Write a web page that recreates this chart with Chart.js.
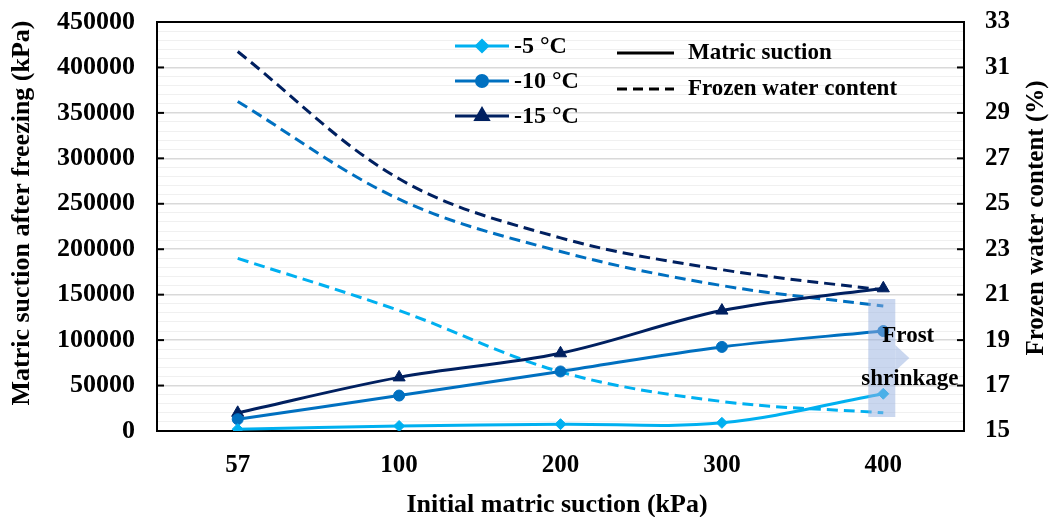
<!DOCTYPE html>
<html>
<head>
<meta charset="utf-8">
<script src="https://cdn.jsdelivr.net/npm/chart.js@4.4.1/dist/chart.umd.min.js"></script>
<style>
  html, body { margin: 0; padding: 0; background: #fff; }
  #wrap { width: 1054px; height: 517px; }
</style>
</head>
<body>
<div id="wrap"><canvas id="chart"></canvas></div>
<script>
// x categories: initial matric suction (kPa)
const CATEGORIES = ["57", "100", "200", "300", "400"];

// matric suction after freezing (kPa), left axis
const SUCTION_5 = [2000, 5500, 7500, 9000, 41000];
const SUCTION_10 = [13000, 39000, 65500, 92500, 110000];
const SUCTION_15 = [20000, 59000, 85500, 132500, 157000];

// frozen water content (%), right axis
const WATER_5 = [22.6, 20.3, 17.6, 16.3, 15.8];
const WATER_10 = [29.5, 25.2, 22.9, 21.4, 20.5];
const WATER_15 = [31.7, 26.1, 23.5, 22.1, 21.2];

// tick labels
const SUCTION_TICKS = [0, 50000, 100000, 150000, 200000, 250000, 300000, 350000, 400000, 450000];
const WATER_TICKS = [15, 17, 19, 21, 23, 25, 27, 29, 31, 33];

const TEMPS = ["-5 °C", "-10 °C", "-15 °C"];
const COLORS = ["#00B0F0", "#0070C0", "#002060"];
const MARKERS = ["rectRot", "circle", "triangle"];

const FONT = "'Liberation Serif', 'Times New Roman', serif";

function solid(label, data, i) {
  return {
    label,
    data,
    yAxisID: "y",
    borderColor: COLORS[i],
    backgroundColor: COLORS[i],
    borderWidth: 3,
    pointStyle: MARKERS[i],
    pointRadius: i === 2 ? 7 : 5.5,
    pointHoverRadius: 6,
    pointBorderWidth: 1,
    tension: 0.35,
    fill: false
  };
}

function dashed(label, data, i) {
  return {
    label,
    data,
    yAxisID: "y2",
    borderColor: COLORS[i],
    borderWidth: 3,
    borderDash: [11, 6],
    pointRadius: 0,
    tension: 0.35,
    fill: false
  };
}

// keep the plot box where the reference has it
function fixWidth(w) {
  return (s) => {
    s.width = w;
    s.paddingTop = 0;
    s.paddingBottom = 0;
  };
}

/* extra drawing: frame, inward ticks, legends, titles, note */

const decor = {
  id: "decor",
  beforeDatasetsDraw(chart) {
    const { ctx, chartArea: a, scales } = chart;
    ctx.save();
    ctx.strokeStyle = "#000";
    ctx.lineWidth = 2;
    ctx.strokeRect(a.left, a.top, a.right - a.left, a.bottom - a.top);

    // inward tick marks
    SUCTION_TICKS.forEach((v) => {
      const y = scales.y.getPixelForValue(v);
      ctx.beginPath();
      ctx.moveTo(a.left, y);
      ctx.lineTo(a.left + 7, y);
      ctx.stroke();
    });
    WATER_TICKS.forEach((v) => {
      const y = scales.y2.getPixelForValue(v);
      ctx.beginPath();
      ctx.moveTo(a.right, y);
      ctx.lineTo(a.right - 7, y);
      ctx.stroke();
    });
    ctx.restore();
  },
  afterDatasetsDraw(chart) {
    const { ctx, scales } = chart;
    ctx.save();

    // "Frost shrinkage" block arrow
    const x4 = scales.x.getPixelForValue(4);
    const top = 299, bottom = 417, mid = 358;
    ctx.fillStyle = "rgba(150, 176, 224, 0.5)";
    ctx.beginPath();
    ctx.rect(x4 - 15, top, 27, bottom - top);
    ctx.fill();
    ctx.beginPath();
    ctx.moveTo(x4 + 12, mid - 13);
    ctx.lineTo(x4 + 26, mid);
    ctx.lineTo(x4 + 12, mid + 13);
    ctx.closePath();
    ctx.fill();

    ctx.fillStyle = "#000";
    ctx.font = "bold 23px " + FONT;
    ctx.textAlign = "left";
    ctx.textBaseline = "alphabetic";
    ctx.fillText("Frost", x4 - 1, 342);
    ctx.fillText("shrinkage", x4 - 22, 385);

    // temperature legend
    const rows = [46, 81, 116];
    TEMPS.forEach((t, i) => {
      const y = rows[i];
      ctx.strokeStyle = COLORS[i];
      ctx.lineWidth = 3;
      ctx.setLineDash([]);
      ctx.beginPath();
      ctx.moveTo(455, y);
      ctx.lineTo(509, y);
      ctx.stroke();
      ctx.fillStyle = COLORS[i];
      Chart.helpers.drawPoint(ctx, {
        pointStyle: MARKERS[i],
        radius: i === 2 ? 7 : 5.5,
        rotation: 0,
        borderWidth: 1
      }, 482, y);
      ctx.fillStyle = "#000";
      ctx.font = "bold 24px " + FONT;
      ctx.textBaseline = "middle";
      ctx.fillText(t, 514, y + 1);
    });

    // line style legend
    ctx.strokeStyle = "#000";
    ctx.lineWidth = 3;
    ctx.beginPath();
    ctx.moveTo(617, 53);
    ctx.lineTo(674, 53);
    ctx.stroke();
    ctx.setLineDash([10, 6]);
    ctx.beginPath();
    ctx.moveTo(617, 89);
    ctx.lineTo(674, 89);
    ctx.stroke();
    ctx.setLineDash([]);
    ctx.font = "bold 23px " + FONT;
    ctx.fillText("Matric suction", 688, 53);
    ctx.fillText("Frozen water content", 688, 89);

    // axis titles
    ctx.font = "bold 26px " + FONT;
    ctx.textAlign = "center";
    ctx.textBaseline = "middle";
    ctx.fillText("Initial matric suction (kPa)", 557, 505);

    ctx.translate(22, 213);
    ctx.rotate(-Math.PI / 2);
    ctx.fillText("Matric suction after freezing (kPa)", 0, 0);
    ctx.setTransform(1, 0, 0, 1, 0, 0);

    ctx.font = "bold 25px " + FONT;
    ctx.translate(1037, 218);
    ctx.rotate(-Math.PI / 2);
    ctx.fillText("Frozen water content (%)", 0, 0);
    ctx.restore();
  }
};

const datasets = [
  solid(TEMPS[0], SUCTION_5, 0),
  solid(TEMPS[1], SUCTION_10, 1),
  solid(TEMPS[2], SUCTION_15, 2),
  dashed(TEMPS[0], WATER_5, 0),
  dashed(TEMPS[1], WATER_10, 1),
  dashed(TEMPS[2], WATER_15, 2)
];

new Chart(document.getElementById("chart"), {
  type: "line",
  data: { labels: CATEGORIES, datasets },
  plugins: [decor],
  options: {
    responsive: true,
    maintainAspectRatio: false,
    animation: false,
    layout: { padding: { top: 22, left: 0, right: 0, bottom: 0 } },
    plugins: {
      legend: { display: false },
      tooltip: { enabled: false }
    },
    scales: {
      x: {
        offset: true,
        grid: { display: false, drawTicks: false },
        border: { color: "#000", width: 2 },
        ticks: {
          color: "#000",
          padding: 20,
          font: { family: FONT, size: 25, weight: "bold" }
        },
        afterFit: (s) => { s.height = 86; }
      },
      y: {
        position: "left",
        min: SUCTION_TICKS[0],
        max: SUCTION_TICKS[SUCTION_TICKS.length - 1],
        ticks: {
          stepSize: 10000,
          autoSkip: false,
          color: "#000",
          padding: 22,
          font: { family: FONT, size: 26, weight: "bold" },
          callback: (v) => (SUCTION_TICKS.includes(v) ? String(v) : "")
        },
        grid: {
          drawTicks: false,
          lineWidth: (c) => (c.tick && c.tick.value % 50000 === 0 ? 1.5 : 1),
          color: (c) => (c.tick && c.tick.value % 50000 === 0 ? "#d9d9d9" : "#f0f0f0")
        },
        border: { color: "#000", width: 2 },
        afterFit: fixWidth(157)
      },
      y2: {
        position: "right",
        min: WATER_TICKS[0],
        max: WATER_TICKS[WATER_TICKS.length - 1],
        ticks: {
          stepSize: 2,
          color: "#000",
          padding: 21,
          font: { family: FONT, size: 25, weight: "bold" }
        },
        grid: { drawOnChartArea: false, drawTicks: false },
        border: { color: "#000", width: 2 },
        afterFit: fixWidth(90)
      }
    }
  }
});
</script>
</body>
</html>
